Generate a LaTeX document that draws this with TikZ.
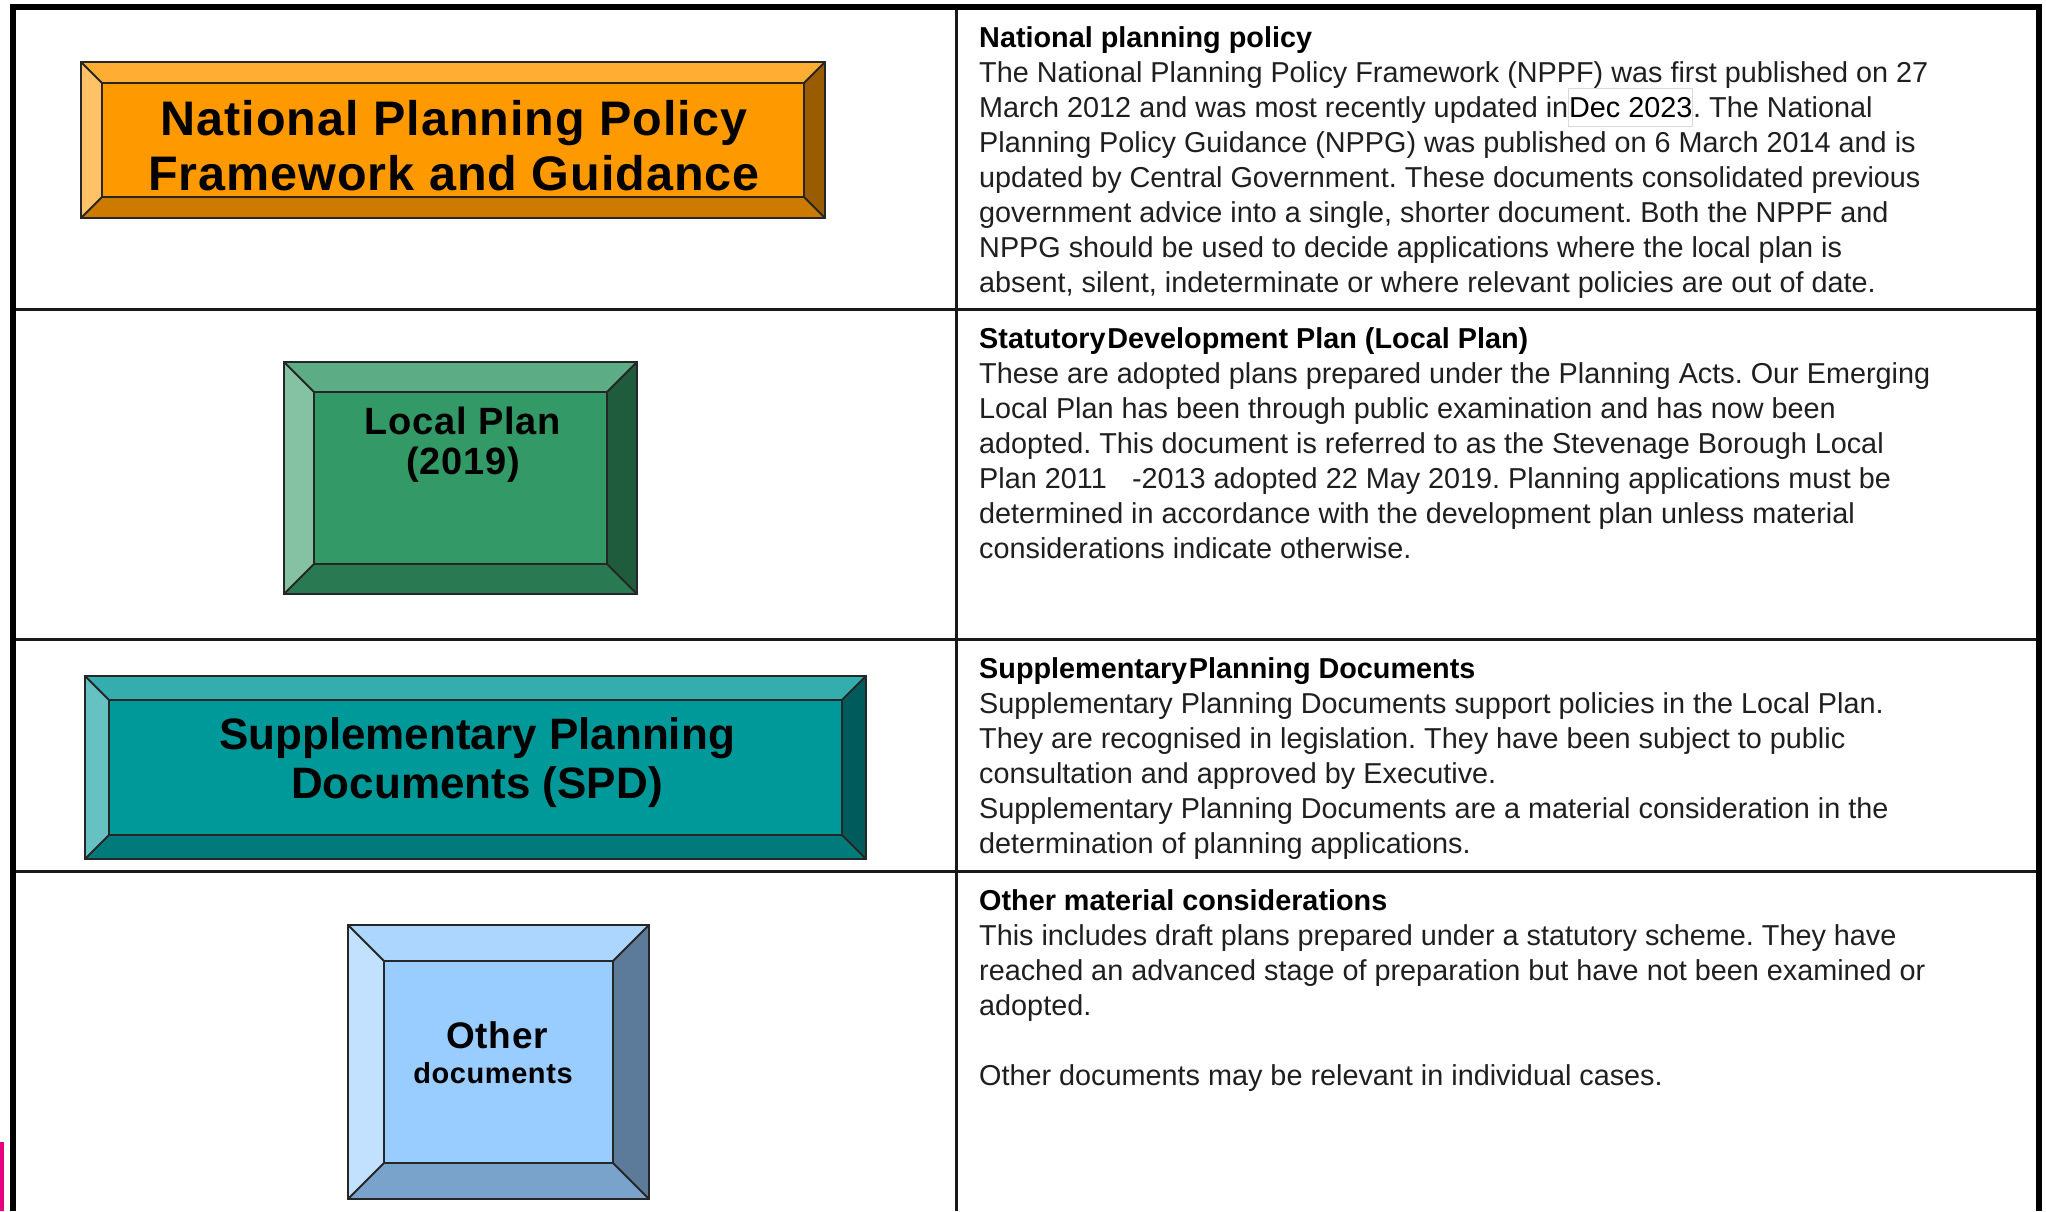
\documentclass[tikz,border=0pt]{standalone}
\usepackage{fontspec}
\setmainfont{Liberation Sans}
\newfontfamily\boxfont[LetterSpace=2]{Liberation Sans}
\usetikzlibrary{calc}
\frenchspacing
\definecolor{orgface}{HTML}{FF9900}\definecolor{orgtop}{HTML}{FFAD33}\definecolor{orgleft}{HTML}{FFC266}\definecolor{orgbot}{HTML}{CC7A00}\definecolor{orgright}{HTML}{995C00}
\definecolor{grnface}{HTML}{339966}\definecolor{grntop}{HTML}{5CAD85}\definecolor{grnleft}{HTML}{85C2A3}\definecolor{grnbot}{HTML}{297A52}\definecolor{grnright}{HTML}{1F5C3D}
\definecolor{tealface}{HTML}{009999}\definecolor{tealtop}{HTML}{33ADAD}\definecolor{tealleft}{HTML}{66C2C2}\definecolor{tealbot}{HTML}{007A7A}\definecolor{tealright}{HTML}{005C5C}
\definecolor{bluface}{HTML}{99CCFF}\definecolor{blutop}{HTML}{ADD6FF}\definecolor{bluleft}{HTML}{C2E0FF}\definecolor{blubot}{HTML}{7AA3CC}\definecolor{bluright}{HTML}{5C7A99}
\definecolor{pinkbar}{HTML}{E6007E}
\newcommand\bevelbox[6]{%
  \fill[#6top] (#1,#2) -- (#3,#2) -- ({#3-#5},{#2+#5}) -- ({#1+#5},{#2+#5}) -- cycle;
  \fill[#6left] (#1,#2) -- ({#1+#5},{#2+#5}) -- ({#1+#5},{#4-#5}) -- (#1,#4) -- cycle;
  \fill[#6bot] (#1,#4) -- ({#1+#5},{#4-#5}) -- ({#3-#5},{#4-#5}) -- (#3,#4) -- cycle;
  \fill[#6right] (#3,#2) -- (#3,#4) -- ({#3-#5},{#4-#5}) -- ({#3-#5},{#2+#5}) -- cycle;
  \fill[#6face] ({#1+#5},{#2+#5}) rectangle ({#3-#5},{#4-#5});
  \draw[bevelline] (#1,#2) rectangle (#3,#4);
  \draw[bevelline] ({#1+#5},{#2+#5}) rectangle ({#3-#5},{#4-#5});
  \draw[bevelline] (#1,#2) -- ({#1+#5},{#2+#5});
  \draw[bevelline] (#3,#2) -- ({#3-#5},{#2+#5});
  \draw[bevelline] (#1,#4) -- ({#1+#5},{#4-#5});
  \draw[bevelline] (#3,#4) -- ({#3-#5},{#4-#5});
}
\newcommand\decpatch[1]{{\setlength\fboxsep{0pt}\setlength\fboxrule{0.8pt}\fcolorbox{black!15}{white}{\color{black}\rule[-9pt]{0pt}{37pt}#1}}}
\tikzset{
  bevelline/.style={draw=black!85,line width=2pt},
  outerline/.style={draw=black,line width=6pt},
  innerline/.style={draw=black!90,line width=3pt},
  bodytext/.style={anchor=base west,inner sep=0pt,text=black!88,font=\fontsize{28.8}{35}\selectfont},
  boxtxt/.style={anchor=base,inner sep=0pt,text=black},
}
\begin{document}
\begin{tikzpicture}[x=1pt,y=-1pt]
\useasboundingbox (0,0) rectangle (2046,1211);
\fill[white] (0,0) rectangle (2046,1211);
% table
\draw[innerline] (12.5,309) -- (2039,309);
\draw[innerline] (12.5,639) -- (2039,639);
\draw[innerline] (12.5,871) -- (2039,871);
\draw[innerline] (956,7) -- (956,1211);
\draw[outerline] (12.5,1211) -- (12.5,7) -- (2039,7) -- (2039,1211);
\fill[pinkbar] (0,1142) rectangle (3.5,1211);
% boxes
\bevelbox{81}{62}{825}{218}{21}{org}
\bevelbox{284}{362}{637}{594}{30}{grn}
\bevelbox{85}{676}{866}{859}{24}{teal}
\bevelbox{348}{925}{649}{1199}{36}{blu}
% box texts
\node[boxtxt,font=\boxfont\bfseries\fontsize{48.5}{55}\selectfont] (org1) at (454,135) {National Planning Policy};
\node[boxtxt,font=\boxfont\bfseries\fontsize{48.5}{55}\selectfont] (org2) at (454,190) {Framework and Guidance};
\node[boxtxt,font=\boxfont\bfseries\fontsize{38}{44}\selectfont] (grn1) at (463,434) {Local Plan};
\node[boxtxt,font=\boxfont\bfseries\fontsize{38}{44}\selectfont] (grn2) at (463,474) {(2019)};
\node[boxtxt,font=\bfseries\fontsize{44}{50}\selectfont] (teal1) at (477,749) {Supplementary Planning};
\node[boxtxt,font=\bfseries\fontsize{44}{50}\selectfont] (teal2) at (477,798) {Documents (SPD)};
\node[boxtxt,font=\boxfont\bfseries\fontsize{37}{44}\selectfont] (blu1) at (497,1048) {Other};
\node[boxtxt,font=\boxfont\bfseries\fontsize{29}{34}\selectfont] (blu2) at (493,1083) {documents};
% right column texts
\node[bodytext] (t1) at (979,47) {\parbox[t]{1050pt}{\leavevmode{\color{black}\bfseries National planning policy}\\
The National Planning Policy Framework (NPPF) was first published on 27\\
March 2012 and was most recently updated in\decpatch{Dec 2023}. The National\\
Planning Policy Guidance (NPPG) was published on 6 March 2014 and is\\
updated by Central Government. These documents consolidated previous\\
government advice into a single, shorter document. Both the NPPF and\\
NPPG should be used to decide applications where the local plan is\\
absent, silent, indeterminate or where relevant policies are out of date.}};
\node[bodytext] (t2) at (979,348) {\parbox[t]{1050pt}{\leavevmode{\color{black}\bfseries Statutory\hspace{0.06em}Development Plan (Local Plan)}\\
These are adopted plans prepared under the Planning Acts. Our Emerging\\
Local Plan has been through public examination and has now been\\
adopted. This document is referred to as the Stevenage Borough Local\\
Plan 2011\hspace{0.6em} -2013 adopted 22 May 2019. Planning applications must be\\
determined in accordance with the development plan unless material\\
considerations indicate otherwise.}};
\node[bodytext] (t3) at (979,678) {\parbox[t]{1050pt}{\leavevmode{\color{black}\bfseries Supplementary\hspace{0.06em}Planning Documents}\\
Supplementary Planning Documents support policies in the Local Plan.\\
They are recognised in legislation. They have been subject to public\\
consultation and approved by Executive.\\
Supplementary Planning Documents are a material consideration in the\\
determination of planning applications.}};
\node[bodytext] (t4) at (979,910) {\parbox[t]{1050pt}{\leavevmode{\color{black}\bfseries Other material considerations}\\
This includes draft plans prepared under a statutory scheme. They have\\
reached an advanced stage of preparation but have not been examined or\\
adopted.\\[35pt]
Other documents may be relevant in individual cases.}};
\end{tikzpicture}
\end{document}
